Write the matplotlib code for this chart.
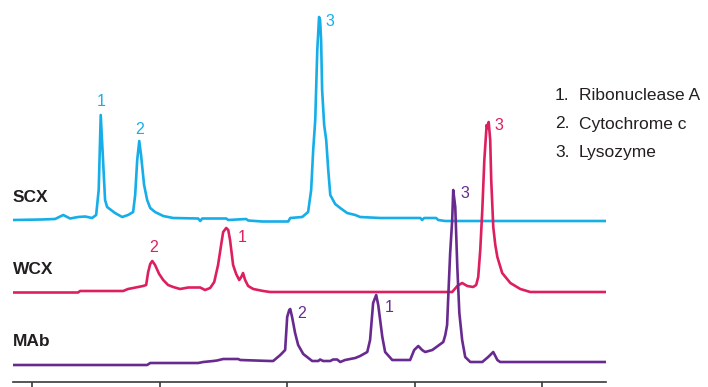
import matplotlib
matplotlib.use("Agg")
import matplotlib.pyplot as plt

# retention time (min) and signal for each column type
scx_t = [-0.75, 0.39, 0.9, 1.22, 1.49, 1.8, 2.08, 2.35, 2.51, 2.61, 2.69, 2.78, 2.86, 2.94,
         3.25, 3.53, 3.76, 3.96, 4.04, 4.12, 4.2, 4.27, 4.39, 4.51, 4.63, 4.82, 5.14, 5.53,
         6.51, 6.59, 6.67, 7.61, 7.69, 8.39, 8.47, 9.02, 10.04, 10.12, 10.59, 10.82, 10.94,
         11.02, 11.1, 11.18, 11.25, 11.29, 11.33, 11.37, 11.45, 11.53, 11.61, 11.69, 11.88,
         12.08, 12.35, 12.67, 12.86, 13.65, 15.22, 15.29, 15.37, 15.84, 15.92, 16.2, 22.51]
scx_y = [0, 0.5, 1, 5, 1.5, 3, 3.5, 2, 5, 30, 105, 60, 20, 13,
         7, 3, 5, 8, 25, 60, 79, 65, 35, 20, 12, 8, 4, 2,
         1.5, -1, 1.5, 1.5, 0, 1, -0.5, -1.5, -1.5, 2, 3, 8, 30,
         70, 100, 170, 203, 200, 180, 130, 95, 80, 50, 25, 16,
         12, 7, 5, 3, 2, 2, 0, 2, 2, 0, -1, -1]

wcx_t = [-0.75, 1.8, 1.88, 3.57, 3.76, 3.96, 4.35, 4.47, 4.55, 4.63, 4.71, 4.82, 4.98, 5.14,
         5.33, 5.53, 5.8, 6.12, 6.59, 6.78, 6.98, 7.14, 7.29, 7.41, 7.49, 7.61, 7.69, 7.76,
         7.88, 8.0, 8.12, 8.2, 8.27, 8.35, 8.47, 8.67, 9.06, 9.33, 16.47, 16.67, 16.86, 17.06,
         17.29, 17.41, 17.49, 17.57, 17.65, 17.73, 17.82, 17.86, 17.9, 17.96, 18.0, 18.08,
         18.16, 18.24, 18.43, 18.75, 19.14, 19.53, 22.51]
wcx_y = [-0.5, -0.5, 1, 1, 3, 4, 6, 7, 20, 28, 31, 27, 18, 12,
         7, 5, 3, 4.5, 4.5, 2, 4, 10, 27, 47, 60, 64, 62, 52,
         27, 18, 12, 15, 19, 12, 6, 3, 1, 0, 0, 6, 9, 6,
         5, 7, 15, 42, 82, 132, 167, 164, 170, 152, 112, 65,
         47, 35, 19, 9, 3, 0, 0]

mab_t = [-0.75, 4.51, 4.63, 6.51, 6.71, 7.1, 7.25, 7.49, 8.08, 8.16, 9.33, 9.45, 9.73, 9.92,
         10.0, 10.08, 10.12, 10.2, 10.31, 10.43, 10.63, 10.98, 11.22, 11.29, 11.41, 11.69,
         11.8, 11.96, 12.08, 12.27, 12.67, 12.86, 13.14, 13.25, 13.37, 13.49, 13.57, 13.73,
         13.84, 14.12, 14.82, 14.98, 15.14, 15.29, 15.41, 15.69, 16.12, 16.2, 16.27, 16.31,
         16.39, 16.47, 16.51, 16.59, 16.67, 16.75, 16.86, 16.98, 17.18, 17.65, 17.88, 18.08,
         18.24, 18.35, 22.51]
mab_y = [0, 0, 2, 2, 3, 4, 4.5, 6, 6, 5, 4, 4, 10, 15,
         48, 55, 56, 47, 32, 20, 11, 4, 4, 5.5, 4, 4,
         5.5, 5.5, 3, 5, 7, 9, 13, 25, 62, 70, 60, 28,
         13, 5, 5, 15, 19, 15, 13, 15, 23, 30, 40, 65,
         112, 145, 175, 158, 98, 52, 25, 8, 3, 3, 8, 13,
         5, 3, 3]

names = ["SCX", "WCX", "MAb"]
colors = ["#16aee8", "#dd1f5f", "#682a8f"]
baselines = [162, 90, 17]

# peak number labels (time, signal) per trace
peak_nums = ["1", "2", "3"]
scx_lab = [(2.71, 119), (4.2, 91), (11.69, 198)]
wcx_lab = [(8.24, 54), (4.75, 45), (18.3, 167)]
mab_lab = [(13.98, 58), (10.58, 52), (16.98, 172)]

compounds = ["Ribonuclease A", "Cytochrome c", "Lysozyme"]

fam = ["Liberation Sans", "DejaVu Sans"]

fig = plt.figure(figsize=(7.08, 3.87), dpi=100)
ax = fig.add_axes([13 / 708, 5 / 387, 593 / 708, 382 / 387])

traces = [(scx_t, scx_y, scx_lab), (wcx_t, wcx_y, wcx_lab), (mab_t, mab_y, mab_lab)]
for (t, y, labs), name, col, base in zip(traces, names, colors, baselines):
    ax.plot(t, [v + base for v in y], color=col, lw=1.9, solid_joinstyle="round")
    for num, (lt, ly) in zip(peak_nums, labs):
        ax.text(lt, ly + base, num, color=col, fontsize=11.5, family=fam,
                ha="center", va="center")
    ax.text(-0.75, base + 23, name, color="#231f20", fontsize=12.5, fontweight="bold",
            family=fam, ha="left", va="center")

ax.set_xlim(-0.75, 22.5)
ax.set_ylim(0, 382)
ax.set_xticks([0, 5, 10, 15, 20])
ax.set_xticklabels([])
ax.set_yticks([])
for s in ["left", "right", "top"]:
    ax.spines[s].set_visible(False)
ax.spines["bottom"].set_color("#3a3a3a")
ax.spines["bottom"].set_linewidth(1.2)
ax.tick_params(axis="x", direction="out", length=4, width=1.2, color="#3a3a3a")
ax.patch.set_visible(False)

# legend lines, baseline-aligned
for i, c in enumerate(compounds):
    yy = 1 - (100 + 28.5 * i) / 387
    fig.text(555 / 708, yy, f"{i + 1}.", fontsize=12.5, family=fam, color="#231f20",
             ha="left", va="baseline")
    fig.text(579 / 708, yy, c, fontsize=12.5, family=fam, color="#231f20",
             ha="left", va="baseline")

fig.savefig("out.png", dpi=100)
